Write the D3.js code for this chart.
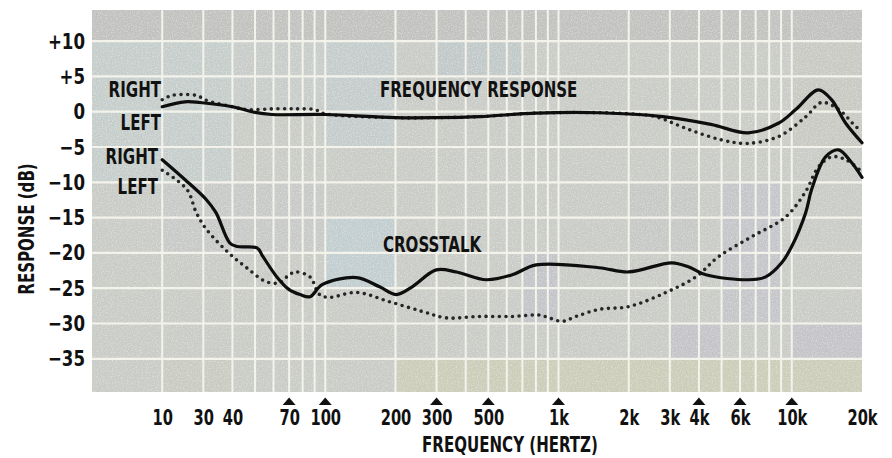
<!DOCTYPE html>
<html>
<head>
<meta charset="utf-8">
<script src="https://cdn.jsdelivr.net/npm/d3@7"></script>
<style>
  html, body { margin: 0; padding: 0; background: #ffffff; }
  svg { display: block; }
  text { font-family: "Liberation Sans Narrow", "DejaVu Sans Condensed", "DejaVu Sans", sans-serif; font-weight: bold; fill: #111; }
</style>
</head>
<body>
<svg id="chart" width="892" height="458"></svg>
<script>
// ---- data (frequency in Hz, response in dB) ----
const freqResponseLeft = [
  [20, 0.7], [25, 1.4], [29, 1.3], [40, 0.7], [50, -0.1], [59, -0.4], [100, -0.4],
  [200, -0.85], [300, -0.85], [460, -0.7], [800, -0.2], [1500, -0.15], [2800, -0.7],
  [4500, -1.8], [6500, -3.0], [8800, -1.6], [10400, 0.3], [13000, 3.1], [14800, 1.7],
  [17000, -1.6], [20000, -4.4]
];
const freqResponseRight = [
  [20, 1.7], [22, 2.3], [28, 2.3], [31, 1.6], [40, 0.7], [46, 0.3], [60, 0.4], [75, 0.4],
  [90, 0.3], [100, -0.3], [200, -0.85], [300, -0.85], [460, -0.7], [800, -0.2],
  [1500, -0.15], [2000, -0.3], [2600, -0.7], [3600, -2.5], [5000, -4.0], [6400, -4.5],
  [8800, -3.5], [11500, -0.7], [13400, 1.3], [15900, 0.3], [18800, -2.1], [20000, -2.8]
];
const crosstalkSolid = [
  [20, -6.8], [25, -9.6], [31, -12.5], [34, -14.3], [39, -18.6], [42, -19.1], [51, -19.3],
  [54, -20.5], [62, -23.4], [70, -25.2], [78, -25.9], [86, -26.2], [97, -24.5], [136, -23.5],
  [171, -24.8], [202, -25.9], [236, -24.8], [299, -22.4], [365, -22.7], [490, -23.8],
  [633, -23.1], [802, -21.7], [1490, -22.1], [2000, -22.7], [3060, -21.4], [3620, -22.0],
  [4280, -23.1], [6540, -23.8], [7730, -23.4], [9050, -21.4], [9990, -19.1], [11470, -14.3],
  [12170, -11.0], [13960, -6.4], [15870, -5.4], [18040, -7.2], [20000, -9.3]
];
const crosstalkDotted = [
  [20, -8.3], [25.5, -11.0], [28, -14.3], [31, -16.7], [38, -19.8], [46, -22.1], [56, -24.1],
  [64, -24.2], [70, -23.1], [75, -22.7], [86, -23.4], [94.5, -25.9], [104, -26.3], [136, -25.6],
  [188, -26.9], [261, -28.3], [330, -29.2], [457, -29.0], [633, -29.0], [826, -28.8],
  [912, -29.2], [1036, -29.7], [1190, -29.0], [1490, -28.0], [2000, -27.6], [2890, -25.6],
  [3880, -23.4], [4870, -20.5], [6740, -17.7], [9420, -14.9], [11470, -11.3], [13030, -7.8],
  [14820, -6.4], [17010, -6.8], [20000, -8.5]
];

// ---- axes ----
const xTickValues = [20, 30, 40, 70, 100, 200, 300, 500, 1000, 2000, 3000, 4000, 6000, 10000, 20000];
const xTickLabels = ["10", "30", "40", "70", "100", "200", "300", "500", "1k", "2k", "3k", "4k", "6k", "10k", "20k"];
const markedFreqs = [70, 100, 300, 500, 1000, 4000, 6000, 10000];
const yTickValues = [10, 5, 0, -5, -10, -15, -20, -25, -30, -35];

// grid paper rulings
const gridFreqs = [20, 30, 40, 50, 60, 70, 80, 90, 100, 200, 300, 400, 500, 600, 700, 800, 900,
                   1000, 2000, 3000, 4000, 5000, 6000, 7000, 8000, 9000, 10000];
const gridDb = [10, 5, 0, -5, -10, -15, -20, -25, -30, -35];

// tinted patches of the screened paper: [f0, f1, dbTop, dbBottom, colour]
const paperPatches = [
  [10, 20000, 14.4, 10, "#c1c1bf"],
  [10, 40, 10, -10, "#c5cdcb"],
  [40, 100, 10, 0, "#c8ccc9"],
  [100, 200, 10, -5, "#c4cccb"],
  [300, 700, 10, 5, "#c1c8c8"],
  [20, 100, -10, -20, "#c7c9c7"],
  [100, 200, -15, -25, "#c1cdcf"],
  [700, 1000, -20, -30, "#c3c4c8"],
  [2000, 4000, -10, -20, "#c6c8c5"],
  [5000, 9000, -10, -30, "#c4c5c9"],
  [3000, 5000, -30, -35, "#c3c3c8"],
  [10000, 20000, -30, -35, "#c4c4c8"],
  [200, 20000, -35, -39.7, "#cbcdb9"],
  [20, 40, -35, -39.7, "#c9cbc1"],
  [10000, 20000, 10, -5, "#c8c9c2"]
];

const svg = d3.select("#chart");
const x = d3.scaleLog().domain([10, 20000]).range([92, 862]);
const y = d3.scaleLinear().domain([14.4, -39.7]).range([10, 392]);

// lettering is a tall, narrow gothic: squeeze each string horizontally
function condense(sel, k) {
  sel.each(function () {
    const w = this.getComputedTextLength();
    d3.select(this).attr("textLength", w * k).attr("lengthAdjust", "spacingAndGlyphs");
  });
}

// paper grain
const defs = svg.append("defs");
const grain = defs.append("filter").attr("id", "grain").attr("x", 0).attr("y", 0).attr("width", 1).attr("height", 1);
grain.append("feTurbulence").attr("type", "fractalNoise").attr("baseFrequency", 0.8).attr("numOctaves", 2).attr("seed", 7);
grain.append("feColorMatrix").attr("type", "matrix")
  .attr("values", "0 0 0 0 1  0 0 0 0 1  0 0 0 0 1  0 0 0 -2.2 1.25");
defs.append("clipPath").attr("id", "plotClip").append("rect")
  .attr("x", x(10)).attr("y", y(14.4)).attr("width", x(20000) - x(10)).attr("height", y(-39.7) - y(14.4));

const paper = svg.append("g").attr("clip-path", "url(#plotClip)");
paper.append("rect")
  .attr("x", x(10)).attr("y", y(14.4)).attr("width", x(20000) - x(10)).attr("height", y(-39.7) - y(14.4))
  .attr("fill", "#c9cbc6");
paper.selectAll("rect.patch").data(paperPatches).join("rect").attr("class", "patch")
  .attr("x", d => x(d[0])).attr("y", d => y(d[2]))
  .attr("width", d => x(d[1]) - x(d[0])).attr("height", d => y(d[3]) - y(d[2]))
  .attr("fill", d => d[4]);
paper.append("rect")
  .attr("x", x(10)).attr("y", y(14.4)).attr("width", x(20000) - x(10)).attr("height", y(-39.7) - y(14.4))
  .attr("filter", "url(#grain)").attr("opacity", 0.4);

paper.selectAll("line.vg").data(gridFreqs).join("line").attr("class", "vg")
  .attr("x1", d => x(d)).attr("x2", d => x(d)).attr("y1", y(14.4)).attr("y2", y(-39.7))
  .attr("stroke", "#f3f3ec").attr("stroke-width", 2);
paper.selectAll("line.hg").data(gridDb).join("line").attr("class", "hg")
  .attr("x1", x(10)).attr("x2", x(20000)).attr("y1", d => y(d)).attr("y2", d => y(d))
  .attr("stroke", "#f3f3ec").attr("stroke-width", 2.2);

// curves
const line = d3.line().x(d => x(d[0])).y(d => y(d[1])).curve(d3.curveCatmullRom.alpha(0.5));
const curves = svg.append("g").attr("fill", "none");
function dotted(data) {
  curves.append("path").attr("d", line(data))
    .attr("stroke", "#262626").attr("stroke-width", 3.6)
    .attr("stroke-linecap", "round").attr("stroke-dasharray", "0 6.6");
}
function solid(data) {
  curves.append("path").attr("d", line(data))
    .attr("stroke", "#0e0e0e").attr("stroke-width", 3.2)
    .attr("stroke-linejoin", "round").attr("stroke-linecap", "round");
}
dotted(freqResponseRight);
solid(freqResponseLeft);
dotted(crosstalkDotted);
solid(crosstalkSolid);

// y axis
const yAxis = d3.axisLeft(y).tickValues(yTickValues).tickSize(0).tickPadding(7)
  .tickFormat(d => d > 0 ? "+" + d : d < 0 ? "\u2212" + Math.abs(d) : "0");
const yg = svg.append("g").attr("transform", `translate(${x(10)},0)`).call(yAxis);
yg.select(".domain").remove();
yg.attr("font-family", null).attr("font-size", null);
yg.selectAll("text").attr("font-size", 22).attr("fill", "#111").call(condense, 0.84);

// x axis
const xAxis = d3.axisBottom(x).tickValues(xTickValues).tickSize(0).tickPadding(0)
  .tickFormat((d, i) => xTickLabels[i]);
const xg = svg.append("g").attr("transform", `translate(0,425)`).call(xAxis);
xg.select(".domain").remove();
xg.attr("font-family", null).attr("font-size", null);
xg.selectAll("text").attr("font-size", 22).attr("dy", null).attr("y", 0).attr("fill", "#111")
  .call(condense, 0.74);

// marker triangles above selected frequencies
svg.append("g").selectAll("path").data(markedFreqs).join("path")
  .attr("d", d => `M${x(d) - 6.5},405 L${x(d) + 6.5},405 L${x(d)},397.5 Z`)
  .attr("fill", "#111");

// axis titles
svg.append("text").attr("x", 510).attr("y", 452).attr("text-anchor", "middle")
  .attr("font-size", 22).text("FREQUENCY (HERTZ)").call(condense, 0.76);
svg.append("text").attr("transform", `translate(34,229) rotate(-90)`)
  .attr("text-anchor", "middle").attr("font-size", 22).text("RESPONSE (dB)").call(condense, 0.76);

// curve annotations
const notes = [
  { t: "RIGHT", x: 161, y: 97, a: "end" },
  { t: "LEFT", x: 161, y: 130, a: "end" },
  { t: "RIGHT", x: 158, y: 164, a: "end" },
  { t: "LEFT", x: 158, y: 194, a: "end" },
  { t: "FREQUENCY RESPONSE", x: 380, y: 97, a: "start" },
  { t: "CROSSTALK", x: 383, y: 252, a: "start" }
];
svg.append("g").selectAll("text").data(notes).join("text")
  .attr("x", d => d.x).attr("y", d => d.y).attr("text-anchor", d => d.a)
  .attr("font-size", 22).text(d => d.t).call(condense, 0.76);
</script>
</body>
</html>
